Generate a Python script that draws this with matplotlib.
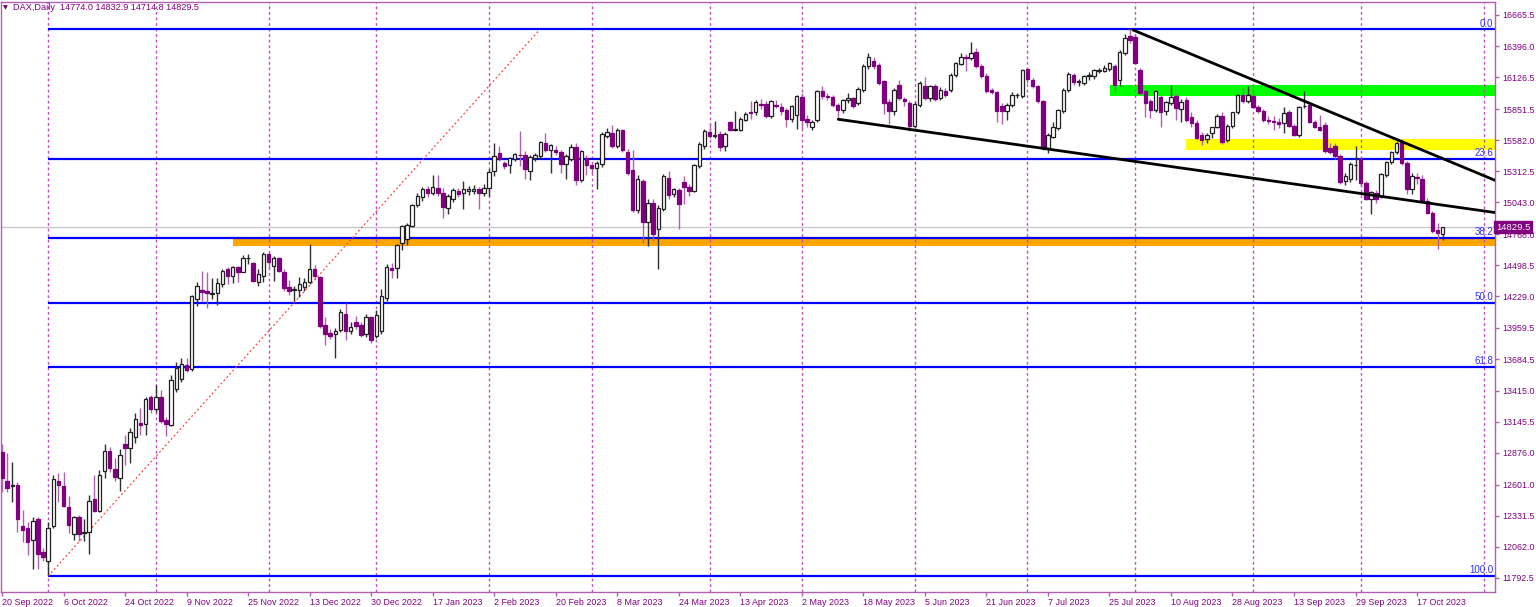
import matplotlib
matplotlib.use('Agg')
import matplotlib.pyplot as plt
import matplotlib.transforms as mtransforms
from matplotlib.patches import Rectangle

# ---------------- data ----------------
opens = [
12885,12635,12590,12597,12238,12229,12120,12304,12014,11936,12238,12632,12589,12410,12175,12318,12180,12189,12477,12373,
12718,12893,12732,12660,12951,12919,13014,13135,13129,13359,13258,13359,13158,13120,13431,13517,13638,13600,14207,14288,
14279,14250,14259,14337,14466,14409,14486,14443,14558,14515,14351,14409,14595,14495,14558,14443,14308,14288,14288,14308,
14357,14466,14394,13983,13914,13906,13943,14078,13926,14012,13983,13906,14049,13891,13934,14220,14475,14472,14696,14725,
14840,15018,15093,15156,15127,15171,15122,14998,15070,15142,15122,15142,15140,15156,15122,15171,15314,15472,15386,15363,
15421,15452,15452,15314,15429,15444,15559,15501,15501,15478,15372,15421,15524,15237,15429,15363,15343,15372,15622,15645,
15530,15668,15478,15323,14978,15228,14874,15041,14817,14984,15257,15113,15150,15219,15179,15142,15357,15530,15654,15616,
15639,15530,15737,15674,15674,15760,15830,15823,15895,15898,15789,15889,15869,15840,15766,15800,15955,15766,15700,15754,
16004,15961,15955,15889,15846,15927,15947,15904,16019,16220,16263,16234,16090,15909,15832,16062,15938,15904,15702,15889,
16053,15947,16047,15947,16004,16013,16148,16240,16300,16291,16349,16220,16140,16013,15995,15880,15832,15889,15970,15961,
16197,16100,16047,15918,15516,15610,15688,15832,16019,16148,16082,16076,16134,16134,16177,16185,16197,16220,16100,16335,
16484,16479,16191,16004,15918,15846,15955,15832,15904,15961,15850,15932,15780,15731,15630,15595,15640,15700,15790,15580,
15702,15823,15976,15920,15961,15869,15832,15760,15750,15740,15731,15823,15702,15625,15875,15889,15737,15700,15717,15516,
15530,15444,15228,15242,15363,15421,15214,15070,15127,15099,15277,15392,15480,15565,15386,15156,15263,15242,15056,14955,
14805,14774.0]
highs = [
12948,12870,12793,12626,12381,12281,12324,12316,12051,12281,12684,12704,12712,12505,12333,12338,12304,12511,12684,12727,
12948,12928,12827,12908,13034,13092,13224,13264,13359,13374,13460,13422,13186,13546,13661,13696,13698,14240,14351,14452,
14443,14386,14386,14466,14480,14495,14495,14587,14595,14529,14466,14610,14610,14581,14567,14466,14374,14322,14394,14386,
14682,14500,14408,14049,13949,13954,14121,14173,14006,14063,14006,14078,14063,14110,14294,14510,14518,14682,14846,14863,
15027,15122,15179,15185,15277,15277,15171,15120,15171,15165,15228,15185,15190,15175,15200,15329,15559,15530,15400,15440,
15470,15659,15487,15450,15470,15575,15645,15550,15530,15500,15460,15550,15560,15500,15450,15380,15400,15651,15688,15717,
15690,15680,15507,15501,15277,15250,15070,15070,15020,15286,15314,15170,15170,15270,15200,15380,15564,15680,15725,15745,
15660,15650,15750,15832,15780,15825,15918,15930,15935,15920,15930,15930,15900,15860,15890,15975,15990,15800,15760,16014,
16050,15990,15975,15900,15940,15990,15960,16040,16240,16340,16300,16250,16100,15940,16030,16100,15960,15920,15910,16090,
16130,16060,16070,16040,16030,16160,16260,16340,16330,16430,16380,16240,16160,16030,16010,15900,15900,16000,15990,16200,
16210,16120,16060,15930,15640,15740,15850,16030,16170,16160,16110,16150,16170,16200,16210,16230,16260,16240,16360,16500,
16540,16500,16210,16020,15940,16020,15975,15920,16062,15980,15935,15955,15830,15760,15650,15640,15700,15810,15830,15720,
15830,15980,16040,16050,15990,15890,15850,15790,15790,15770,15870,15840,15720,15880,16004,15900,15760,15800,15740,15560,
15560,15460,15300,15395,15530,15440,15230,15140,15150,15300,15400,15490,15575,15590,15400,15300,15300,15280,15080,14970,
14868,14832.9]
lows = [
12540,12540,12448,12189,12108,11994,11873,11873,11940,11821,12224,12453,12410,12180,12123,12109,12109,11999,12362,12362,
12660,12712,12632,12546,12770,12784,12957,13034,13034,13224,13230,13130,13023,13109,13400,13490,13575,13580,14150,14193,
14127,14207,14156,14308,14337,14345,14351,14437,14509,14357,14322,14351,14466,14365,14437,14279,14242,14193,14222,14279,
14337,14380,13960,13811,13860,13696,13920,13848,13900,13950,13880,13880,13830,13870,13900,14190,14386,14386,14633,14673,
14830,15000,15055,15090,15110,15099,14912,14941,15050,15090,14984,15110,15120,14989,15100,15099,15271,15400,15330,15300,
15400,15357,15248,15240,15400,15420,15480,15300,15450,15300,15248,15400,15191,15220,15277,15300,15156,15350,15600,15510,
15510,15480,15280,14960,14950,14696,14667,14711,14466,14970,15076,15090,14811,15027,15100,15130,15340,15507,15600,15600,
15487,15487,15660,15660,15660,15745,15766,15800,15850,15770,15770,15860,15800,15697,15740,15680,15678,15700,15674,15740,
15940,15930,15870,15760,15820,15900,15860,15890,16000,16200,16200,16060,15810,15720,15800,15930,15880,15660,15690,15870,
15930,15920,15920,15930,15960,16000,16130,16230,16180,16280,16210,16120,15990,15980,15735,15720,15760,15870,15950,15950,
16080,16030,15900,15500,15475,15600,15670,15820,16000,16060,16050,16060,16100,16110,16160,16170,16180,16000,16050,16320,
16420,16240,15980,15785,15770,15830,15700,15800,15890,15760,15740,15740,15700,15590,15540,15560,15600,15690,15550,15570,
15690,15810,15900,15900,15860,15820,15740,15720,15670,15690,15640,15700,15620,15610,15860,15730,15690,15660,15470,15460,
15420,15200,15190,15220,15240,15180,15060,14946,15040,15080,15260,15380,15460,15370,15113,15113,15200,15040,14940,14780,
14639,14714.8]
closes = [
12655,12574,12600,12304,12210,12108,12287,11999,11971,12229,12649,12597,12416,12247,12318,12175,12190,12462,12373,12684,
12893,12747,12663,12856,12919,13052,13172,13115,13345,13259,13359,13149,13129,13503,13609,13647,13589,14230,14317,14271,
14259,14252,14345,14452,14409,14480,14443,14558,14562,14365,14423,14595,14524,14558,14452,14299,14279,14290,14337,14357,
14466,14409,13972,13906,13885,13934,14092,13934,13963,13977,13897,14049,13848,14069,14230,14481,14460,14673,14840,14846,
15018,15099,15156,15122,15179,15122,15007,15099,15150,15119,15162,15162,15162,15122,15171,15306,15444,15421,15357,15429,
15458,15450,15329,15438,15452,15564,15501,15536,15478,15380,15444,15524,15237,15487,15363,15337,15386,15639,15654,15530,
15674,15495,15300,14978,15242,14874,15041,14768,14998,15271,15107,15156,15027,15179,15142,15363,15553,15659,15622,15631,
15524,15639,15674,15677,15766,15812,15815,15909,15890,15789,15918,15881,15832,15766,15875,15961,15754,15737,15740,16004,
15961,15955,15889,15840,15927,15947,15881,16024,16226,16300,16226,16076,15904,15832,16013,15947,15918,15702,15898,16076,
15947,16047,15938,16019,15975,16148,16249,16306,16291,16335,16220,16134,16004,15995,15832,15832,15889,15975,15975,16191,
16111,16047,15918,15516,15630,15697,15840,16019,16157,16082,16094,16134,16148,16191,16191,16205,16249,16062,16349,16464,
16450,16249,15990,15904,15840,16004,15823,15909,15955,15860,15910,15760,15730,15602,15580,15625,15700,15795,15566,15702,
15825,15976,15918,15976,15869,15832,15760,15746,15740,15725,15817,15702,15631,15869,15881,15737,15697,15674,15487,15478,
15444,15219,15271,15372,15365,15208,15070,15133,15070,15286,15392,15480,15560,15386,15156,15271,15251,15056,14955,14797,
14782,14829.5]

date_labels = ["20 Sep 2022", "6 Oct 2022", "24 Oct 2022", "9 Nov 2022", "25 Nov 2022", "13 Dec 2022",
               "30 Dec 2022", "17 Jan 2023", "2 Feb 2023", "20 Feb 2023", "8 Mar 2023", "24 Mar 2023",
               "13 Apr 2023", "2 May 2023", "18 May 2023", "5 Jun 2023", "21 Jun 2023", "7 Jul 2023",
               "25 Jul 2023", "10 Aug 2023", "28 Aug 2023", "13 Sep 2023", "29 Sep 2023", "17 Oct 2023"]
date_label_bars = [0, 12, 24, 36, 48, 60, 72, 84, 96, 108, 120, 132, 144, 156, 168, 180, 192, 204,
                   216, 228, 240, 252, 264, 276]
month_start_bars = [9, 30, 52, 73, 95, 115, 138, 156, 178, 200, 221, 244, 265, 289]

price_ticks = [11792.5, 12062.0, 12331.5, 12601.0, 12876.0, 13145.5, 13415.0, 13684.5, 13959.5,
               14229.0, 14498.5, 14768.0, 15043.0, 15312.5, 15582.0, 15851.5, 16126.5, 16396.0, 16665.5]

fib_levels = [0.0, 23.6, 38.2, 50.0, 61.8, 100.0]
fib_high = 16540.0
fib_low = 11808.0
fib_start_bar = 9
fib_end_bar = 104.9

# zones: (start bar, low price, high price, colour)
zone_starts = [45.1, 216.1, 230.9]
zone_lows = [14665, 15967, 15493]
zone_highs = [14725, 16062, 15596]
zone_colors = ['#FFA500', '#00FF00', '#FFFF00']

# trend lines: two anchor points each (bar, price); extended to the right edge
trend_upper = [(220.6, 16536.0), (290.8, 15242.0)]
trend_lower = [(163.1, 15763.0), (290.8, 14958.0)]

# ---------------- figure ----------------
W, H = 1536, 607
fig = plt.figure(figsize=(W / 100, H / 100), dpi=100)
fig.patch.set_facecolor('white')
ax = fig.add_axes([1 / W, 15 / H, 1494 / W, 590 / H])
ax.set_facecolor('white')

X0, X1 = -0.195, 291.2
Y0, Y1 = 11671.0, 16778.0
ax.set_xlim(X0, X1)
ax.set_ylim(Y0, Y1)

FG = '#800080'
FRAME = '#B060B0'
font = ['Liberation Sans', 'DejaVu Sans']

# zones (background)
for s, lo, hi, col in zip(zone_starts, zone_lows, zone_highs, zone_colors):
    ax.add_patch(Rectangle((s, lo), X1 - s + 1, hi - lo, facecolor=col, edgecolor='none', zorder=1))

# month separators
for b in month_start_bars:
    ax.axvline(b, color='#C050C0', lw=1.0, ls=(0, (2, 2)), zorder=1.5)

# current price line
ax.axhline(closes[-1], color='#C8C8C8', lw=1.0, zorder=1.6)

# fibonacci
for lv in fib_levels:
    p = fib_high - (fib_high - fib_low) * lv / 100.0
    ax.plot([fib_start_bar, X1 + 1], [p, p], color='#0000FF', lw=1.6, zorder=2, solid_capstyle='butt')
    ax.text(X1 - 0.3, p + 8, f"{lv:.1f}", color='#3030FF', fontsize=7, family=font,
            ha='right', va='bottom', zorder=6)
ax.plot([fib_start_bar, fib_end_bar], [fib_low, fib_high], color='#FF4040', lw=0.9,
        ls=(0, (1.5, 2)), zorder=2)

# candles
for i, (o, h, l, c) in enumerate(zip(opens, highs, lows, closes)):
    bull = c >= o
    wick_col = '#303030' if bull else '#B060B0'
    ax.vlines(i, l, h, color=wick_col, lw=1.0, zorder=3)
    bottom = min(o, c)
    height = max(abs(c - o), 7)
    if bull:
        ax.add_patch(Rectangle((i - 0.34, bottom), 0.68, height, facecolor='white',
                               edgecolor='#202020', lw=0.9, zorder=4))
    else:
        ax.add_patch(Rectangle((i - 0.34, bottom), 0.68, height, facecolor='#800080',
                               edgecolor='#800080', lw=0.9, zorder=4))

# trend lines
def extend(pts):
    (xa, ya), (xb, yb) = pts
    slope = (yb - ya) / (xb - xa)
    xe = X1 + 1
    return [xa, xe], [ya, ya + slope * (xe - xa)]

for tl in (trend_upper, trend_lower):
    xs, ys = extend(tl)
    ax.plot(xs, ys, color='black', lw=2.0, zorder=5, solid_capstyle='round')

# axes styling
for sp in ax.spines.values():
    sp.set_color(FRAME)
    sp.set_linewidth(1.0)
ax.yaxis.tick_right()
ax.set_yticks(price_ticks)
ax.set_yticklabels([f"{v:.1f}" for v in price_ticks])
ax.set_xticks(date_label_bars)
ax.set_xticklabels(date_labels)
ax.tick_params(axis='both', colors=FRAME, labelcolor=FG, labelsize=6.4, length=3, width=1,
               direction='out')
ax.tick_params(axis='x', pad=1.5)
ax.tick_params(axis='y', pad=2)
for lab in ax.get_xticklabels():
    lab.set_ha('left')
    lab.set_family(font)
for lab in ax.get_yticklabels():
    lab.set_family(font)

# current price box
trans = mtransforms.blended_transform_factory(ax.transAxes, ax.transData)
ax.text(1.0007, closes[-1], f"{closes[-1]:.1f}", transform=trans, color='white', fontsize=6.8,
        family=font, ha='left', va='center', zorder=10, clip_on=False,
        bbox=dict(boxstyle='square,pad=0.2', facecolor='#800080', edgecolor='#800080'))

# header
header = (f"DAX,Daily  {opens[-1]:.1f} {highs[-1]:.1f} {lows[-1]:.1f} {closes[-1]:.1f}")
fig.text(3 / W, 1 - 8 / H, "\u25BC", fontsize=4.5, color='#600060', family=['DejaVu Sans'],
         va='center', ha='left')
fig.text(13 / W, 1 - 8 / H, header, fontsize=6.6, color=FG, family=font, va='center', ha='left')

fig.savefig('out.png', dpi=100, facecolor='white')
